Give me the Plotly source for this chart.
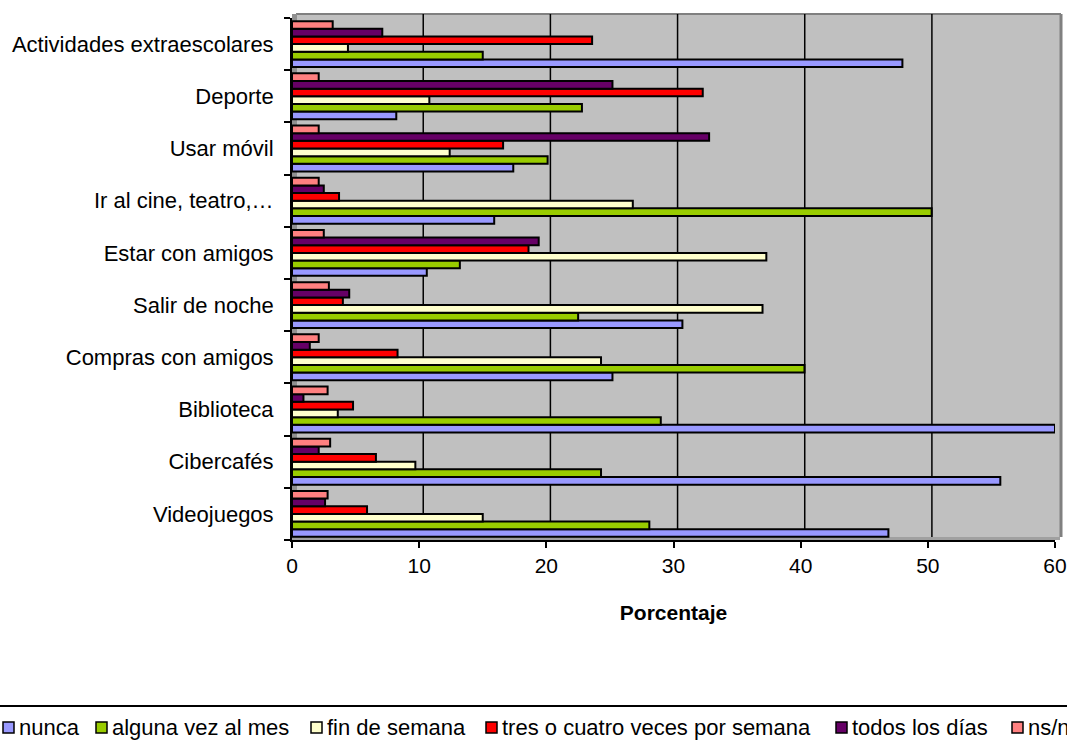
import plotly.graph_objects as go

categories = ["Videojuegos", "Cibercafés", "Biblioteca", "Compras con amigos",
              "Salir de noche", "Estar con amigos", "Ir al cine, teatro,…",
              "Usar móvil", "Deporte", "Actividades extraescolares"]

series_names = ["nunca", "alguna vez al mes", "fin de semana",
                "tres o cuatro veces por semana", "todos los días", "ns/nc"]

nunca = [46.9, 55.7, 60.0, 25.2, 30.7, 10.6, 15.9, 17.4, 8.2, 48.0]
alguna = [28.1, 24.3, 29.0, 40.3, 22.5, 13.2, 50.3, 20.1, 22.8, 15.0]
fin_semana = [15.0, 9.7, 3.6, 24.3, 37.0, 37.3, 26.8, 12.4, 10.8, 4.4]
tres_cuatro = [5.9, 6.6, 4.8, 8.3, 4.0, 18.6, 3.7, 16.6, 32.3, 23.6]
todos = [2.6, 2.1, 0.9, 1.4, 4.5, 19.4, 2.5, 32.8, 25.2, 7.1]
nsnc = [2.8, 3.0, 2.8, 2.1, 2.9, 2.5, 2.1, 2.1, 2.1, 3.2]

colors = ["#9999FF", "#99CC00", "#FFFFCC", "#FF0000", "#660066", "#FF8080"]
x_ticks = [0, 10, 20, 30, 40, 50, 60]

series = [nunca, alguna, fin_semana, tres_cuatro, todos, nsnc]

# ---- layout geometry (page pixels; body margin removed in the page)
W, H = 1067, 743
PX0, PX1, PY0, PY1 = 292, 1055, 18, 540   # plot area in page px
PW, PH = PX1 - PX0, PY1 - PY0


def px(x):
    return (x - PX0) / PW


def py(y):
    return (PY1 - y) / PH


FONT = "Liberation Sans, Arial, sans-serif"

fig = go.Figure()
for name, vals, col in zip(series_names, series, colors):
    fig.add_trace(go.Bar(
        y=categories, x=vals, name=name, orientation="h",
        marker=dict(color=col, line=dict(color="black", width=2)),
        showlegend=False,
    ))

shapes = []
annotations = []

# back wall (extends above/right of the axes: 3-D depth), borders, walls
shapes.append(dict(type="rect", xref="paper", yref="paper", layer="below",
                   x0=px(296), x1=px(1060), y0=py(537), y1=py(14),
                   fillcolor="#C0C0C0", line=dict(width=0)))
shapes.append(dict(type="line", xref="paper", yref="paper", layer="below",
                   x0=px(296), x1=px(1061), y0=py(14), y1=py(14),
                   line=dict(color="#808080", width=2)))
shapes.append(dict(type="line", xref="paper", yref="paper", layer="below",
                   x0=px(1061), x1=px(1061), y0=py(537), y1=py(14),
                   line=dict(color="#808080", width=3)))
shapes.append(dict(type="rect", xref="paper", yref="paper", layer="below",
                   x0=0, x1=px(297), y0=0, y1=py(14),
                   fillcolor="#909090", line=dict(width=0)))
shapes.append(dict(type="rect", xref="paper", yref="paper", layer="below",
                   x0=0, x1=px(1060), y0=0, y1=py(537),
                   fillcolor="#A0A0A0", line=dict(width=0)))

# gridlines on the back wall (shifted by the 3-D depth)
for v in x_ticks[1:-1]:
    shapes.append(dict(type="line", xref="x", yref="paper", layer="below",
                       x0=v + 0.32, x1=v + 0.32, y0=py(537), y1=py(14),
                       line=dict(color="black", width=1.5)))

# legend separator line
shapes.append(dict(type="line", xref="paper", yref="paper",
                   x0=px(0), x1=px(1072), y0=py(706), y1=py(706),
                   line=dict(color="black", width=2)))

# hand-drawn legend (single row, overflowing at the right like the original)
legend_box_x = [3, 96, 311, 486, 836, 1012]
LEG_Y = 727
for name, col, bx in zip(series_names, colors, legend_box_x):
    shapes.append(dict(type="rect", xref="paper", yref="paper",
                       x0=px(bx), x1=px(bx + 11), y0=py(LEG_Y + 6), y1=py(LEG_Y - 5),
                       fillcolor=col, line=dict(color="black", width=1.5)))
    annotations.append(dict(xref="paper", yref="paper", x=px(bx + 14), y=py(LEG_Y),
                            xanchor="left", yanchor="middle", showarrow=False,
                            text=name, font=dict(family=FONT, size=22, color="black")))

fig.update_layout(
    width=W, height=H,
    margin=dict(l=PX0, r=W - PX1, t=PY0, b=H - PY1, autoexpand=False, pad=0),
    paper_bgcolor="white",
    plot_bgcolor="rgba(0,0,0,0)",
    barmode="group",
    bargap=0.12,
    bargroupgap=0,
    font=dict(family=FONT, size=22, color="black"),
    showlegend=False,
    xaxis=dict(
        range=[0, 60],
        tickvals=x_ticks,
        ticks="outside", ticklen=6, tickwidth=1.5, tickcolor="black",
        showgrid=False,
        showline=True, linecolor="black", linewidth=1.5,
        zeroline=False,
        title=dict(text="<b>Porcentaje</b>", font=dict(size=21), standoff=29),
        tickfont=dict(size=21),
    ),
    yaxis=dict(
        type="category",
        categoryorder="array", categoryarray=categories,
        range=[-0.5, 9.5],
        ticks="outside", ticklen=6, tickwidth=1.5, tickcolor="black",
        tickson="boundaries",
        showgrid=False,
        showline=True, linecolor="black", linewidth=1.5,
        tickfont=dict(size=22),
        ticksuffix="  ",
    ),
    shapes=shapes,
    annotations=annotations,
)

fig.write_html(
    "out.html",
    config={"displayModeBar": False},
    post_script="document.body.style.margin='0px';document.body.style.overflow='hidden';",
)
